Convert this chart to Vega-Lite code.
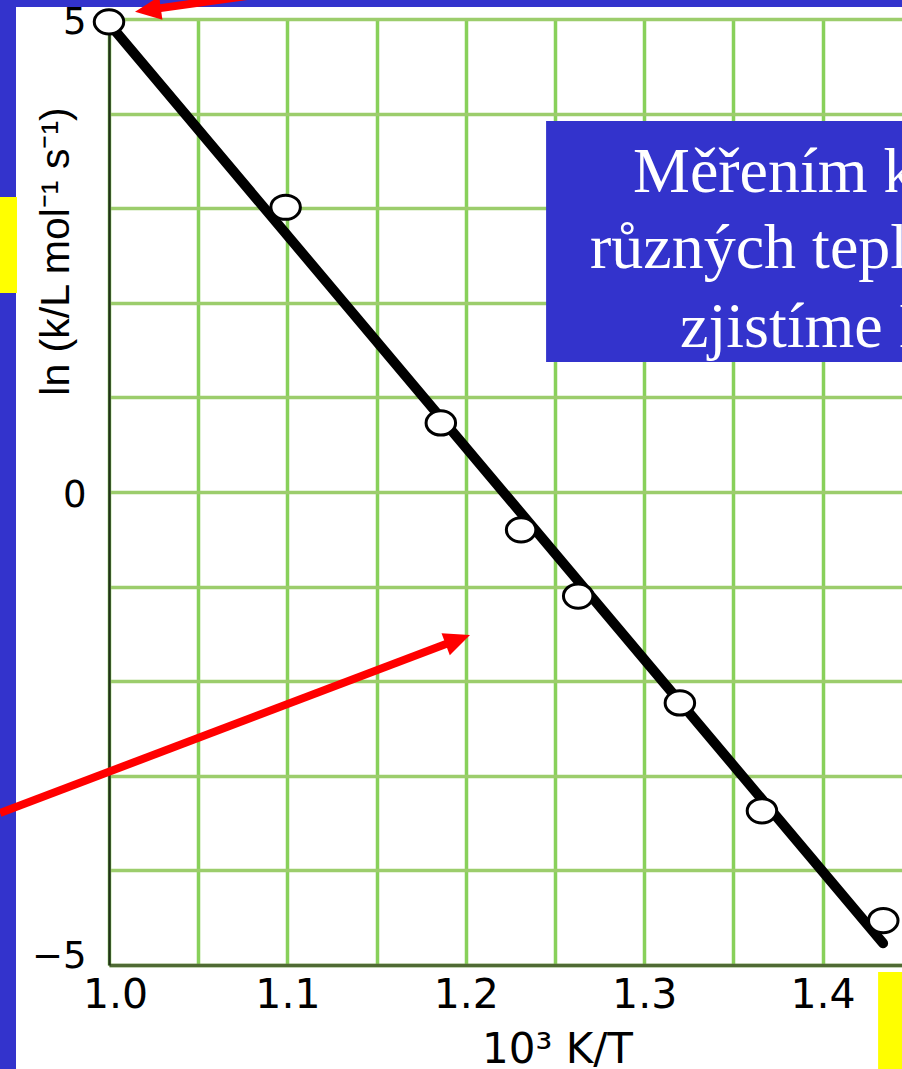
{
  "$schema": "https://vega.github.io/schema/vega-lite/v6.json",
  "width": 793,
  "height": 946,
  "autosize": {"type": "none"},
  "padding": {"left": 109, "top": 19, "right": 0, "bottom": 104},
  "background": "white",
  "config": {"view": {"stroke": null}},
  "datasets": {
    "points": [
      {"x": 1.0, "y": 4.97},
      {"x": 1.099, "y": 3.01},
      {"x": 1.186, "y": 0.73},
      {"x": 1.231, "y": -0.40},
      {"x": 1.263, "y": -1.10},
      {"x": 1.320, "y": -2.23},
      {"x": 1.366, "y": -3.37},
      {"x": 1.434, "y": -4.53}
    ],
    "fit": [
      {"x": 1.0, "y": 4.953},
      {"x": 1.4339, "y": -4.77}
    ],
    "box": [{"x": 1.245, "x2": 1.5, "y": 3.922, "y2": 1.374}],
    "boxtext": [
      {"x": 1.2937, "y": 3.171, "text": "Měřením konstant"},
      {"x": 1.2696, "y": 2.368, "text": "různých teplot"},
      {"x": 1.3201, "y": 1.533, "text": "zjistíme Ea"}
    ],
    "frame": [
      {"x": 0.93, "x2": 0.94787, "y": 5.25, "y2": -6.15},
      {"x": 0.93, "x2": 1.5, "y": 5.25, "y2": 5.1268}
    ],
    "yellow": [
      {"x": 0.93, "x2": 0.94843, "y": 3.1184, "y2": 2.1036},
      {"x": 1.4311, "x2": 1.5, "y": -5.074, "y2": -6.15}
    ],
    "shafts": [
      {"x": 0.9389, "y": -3.3932, "x2": 1.19552, "y2": -1.5603},
      {"x": 1.02181, "y": 5.0962, "x2": 1.16312, "y2": 5.4704}
    ],
    "headLow": [{"x": 1.19552, "y": -1.5603}],
    "headTop": [{"x": 1.02181, "y": 5.0962}]
  },
  "encoding": {
    "x": {
      "field": "x",
      "type": "quantitative",
      "scale": {"domain": [1.0, 1.4445], "nice": false, "zero": false},
      "axis": {
        "values": [1.0, 1.05, 1.1, 1.15, 1.2, 1.25, 1.3, 1.35, 1.4],
        "labelExpr": "(round(datum.value*100) % 10 == 0) ? format(datum.value, '.1f') : ''",
        "grid": true,
        "gridColor": "#88d05a",
        "gridWidth": 3.5,
        "gridOpacity": 1,
        "ticks": false,
        "tickSize": 0,
        "domainColor": "#4f6a34",
        "domainWidth": 3.5,
        "labelFont": "DejaVu Sans",
        "labelFontSize": 41,
        "labelColor": "black",
        "labelPadding": 10,
        "labelFlush": false,
        "labelOverlap": false,
        "labelOffset": {"condition": {"test": "datum.value == 1", "value": 6}, "value": 0},
        "title": "10³ K/T",
        "titleFont": "DejaVu Sans",
        "titleFontSize": 42,
        "titleFontWeight": "normal",
        "titleColor": "black",
        "titleX": 448,
        "titleY": 97,
        "titleBaseline": "alphabetic",
        "titleAlign": "center"
      }
    },
    "y": {
      "field": "y",
      "type": "quantitative",
      "scale": {"domain": [-5, 5], "nice": false, "zero": false},
      "axis": {
        "values": [-5, -4, -3, -2, -1, 0, 1, 2, 3, 4, 5],
        "labelExpr": "(datum.value == 5 || datum.value == 0 || datum.value == -5) ? datum.label : ''",
        "grid": true,
        "gridColor": "#9ccd6c",
        "gridWidth": 3.5,
        "gridOpacity": 1,
        "ticks": false,
        "tickSize": 0,
        "domainColor": "#22331a",
        "domainWidth": 2.5,
        "labelFont": "DejaVu Sans",
        "labelFontSize": 37,
        "labelColor": "black",
        "labelPadding": 23,
        "labelOverlap": false,
        "labelOffset": {"condition": {"test": "datum.value == -5", "value": -9}, "value": 3},
        "title": "ln (k/L mol⁻¹ s⁻¹)",
        "titleFont": "Liberation Sans",
        "titleFontSize": 41,
        "titleFontWeight": "normal",
        "titleColor": "black",
        "titleX": -41,
        "titleY": 232,
        "titleAngle": -90,
        "titleBaseline": "alphabetic",
        "titleAlign": "center"
      }
    }
  },
  "layer": [
    {
      "data": {"name": "fit"},
      "mark": {"type": "line", "color": "black", "strokeWidth": 10, "strokeCap": "round"},
      "encoding": {"x": {"field": "x", "type": "quantitative"}, "y": {"field": "y", "type": "quantitative"}}
    },
    {
      "data": {"name": "points"},
      "mark": {
        "type": "point",
        "shape": "M -1 0 A 1 0.82 0 1 1 1 0 A 1 0.82 0 1 1 -1 0 Z",
        "size": 870,
        "filled": true,
        "fill": "white",
        "stroke": "black",
        "strokeWidth": 3,
        "opacity": 1,
        "fillOpacity": 1,
        "strokeOpacity": 1
      }
    },
    {
      "data": {"name": "box"},
      "mark": {"type": "rect", "color": "#3333cc", "opacity": 1},
      "encoding": {"x2": {"field": "x2"}, "y2": {"field": "y2"}}
    },
    {
      "data": {"name": "boxtext"},
      "mark": {
        "type": "text",
        "font": "Liberation Serif",
        "fontSize": 64,
        "color": "white",
        "align": "left",
        "baseline": "alphabetic"
      },
      "encoding": {"text": {"field": "text"}}
    },
    {
      "data": {"name": "frame"},
      "mark": {"type": "rect", "color": "#3333cc", "opacity": 1},
      "encoding": {"x2": {"field": "x2"}, "y2": {"field": "y2"}}
    },
    {
      "data": {"name": "yellow"},
      "mark": {"type": "rect", "color": "#ffff00", "opacity": 1},
      "encoding": {"x2": {"field": "x2"}, "y2": {"field": "y2"}}
    },
    {
      "data": {"name": "shafts"},
      "mark": {"type": "rule", "color": "#ff0000", "strokeWidth": 8, "strokeCap": "butt", "opacity": 1},
      "encoding": {"x2": {"field": "x2"}, "y2": {"field": "y2"}}
    },
    {
      "data": {"name": "headLow"},
      "mark": {
        "type": "point",
        "shape": "M 1 0 L -1 -0.9 L -1 0.9 Z",
        "size": 676,
        "filled": true,
        "color": "#ff0000",
        "opacity": 1,
        "strokeWidth": 0,
        "angle": -20.7
      }
    },
    {
      "data": {"name": "headTop"},
      "mark": {
        "type": "point",
        "shape": "M 1 0 L -1 -0.9 L -1 0.9 Z",
        "size": 676,
        "filled": true,
        "color": "#ff0000",
        "opacity": 1,
        "strokeWidth": 0,
        "angle": 172
      }
    }
  ]
}
